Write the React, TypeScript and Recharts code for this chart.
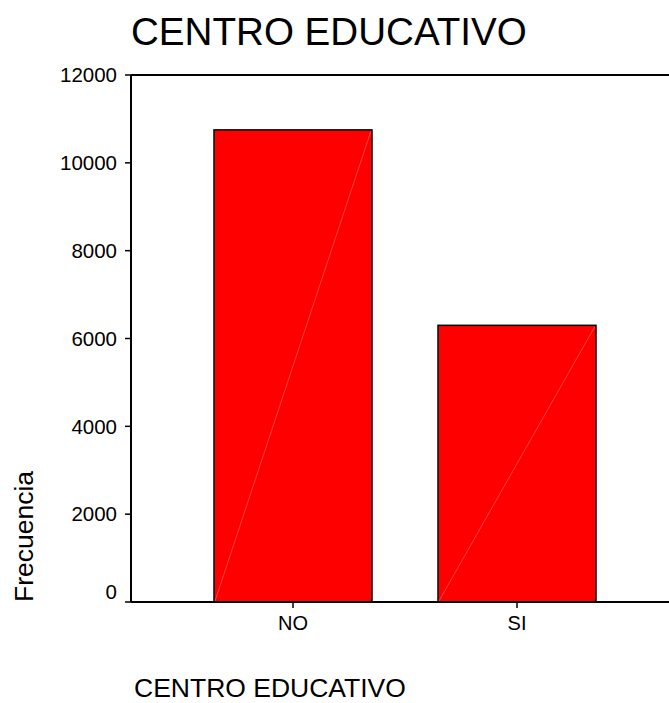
import React from 'react';
import { BarChart, Bar, XAxis, YAxis, ReferenceLine } from 'recharts';

const categories = ['NO', 'SI'];
const frequencies = [10750, 6300];
const yTicks = [0, 2000, 4000, 6000, 8000, 10000, 12000];

const chartData = categories.map((name, i) => ({ name, value: frequencies[i] }));

const FONT = '"Liberation Sans", Arial, sans-serif';

// SPSS style bar: solid red with a faint diagonal
const DiagonalBar = (props: any) => {
  const { x, y, width, height } = props;
  if (!height) return null;
  return (
    <g>
      <rect x={x} y={y} width={width} height={height} fill="#ff0000" stroke="#000" strokeWidth={1.5} />
      <line x1={x + 1} y1={y + height - 1} x2={x + width - 1} y2={y + 1} stroke="#ff7070" strokeWidth={0.6} />
    </g>
  );
};

const YTick = (props: any) => {
  const { x, y, payload } = props;
  const shift = payload.value === 0 ? -10 : 0;
  return (
    <text x={x} y={y + shift} dy="0.355em" textAnchor="end" fontSize={20.5} fontFamily={FONT} fill="#000">
      {payload.value}
    </text>
  );
};

const XTick = (props: any) => {
  const { x, y, payload } = props;
  return (
    <text x={x} y={y} dy="0.71em" textAnchor="middle" fontSize={20} fontFamily={FONT} fill="#000">
      {payload.value}
    </text>
  );
};

const App: React.FC = () => {
  return (
    <div style={{ position: 'absolute', left: 0, top: 0, width: 669, height: 703, background: '#fff' }}>
      <BarChart
        width={669}
        height={703}
        data={chartData}
        margin={{ top: 75, right: 0, bottom: 61, left: 0 }}
      >
        <XAxis
          dataKey="name"
          padding={{ left: 50, right: 40 }}
          axisLine={{ stroke: '#000', strokeWidth: 2 }}
          tickLine={{ stroke: '#000', strokeWidth: 1.5 }}
          tickSize={6}
          tickMargin={8}
          height={40}
          tick={<XTick />}
        />
        <YAxis
          domain={[0, 12000]}
          ticks={yTicks}
          interval={0}
          width={131}
          axisLine={{ stroke: '#000', strokeWidth: 2 }}
          tickLine={{ stroke: '#000', strokeWidth: 1.5 }}
          tickSize={6}
          tickMargin={8}
          tick={<YTick />}
        />
        <ReferenceLine y={12000} stroke="#000" strokeWidth={2} />
        <Bar dataKey="value" barSize={158} shape={<DiagonalBar />} isAnimationActive={false} />
      </BarChart>
      <svg width={669} height={703} style={{ position: 'absolute', left: 0, top: 0, pointerEvents: 'none' }}>
        <text x={131} y={45} fontSize={38.6} fontFamily={FONT} fill="#000">CENTRO EDUCATIVO</text>
        <text x={134} y={697} fontSize={26.5} fontFamily={FONT} fill="#000">CENTRO EDUCATIVO</text>
        <text x={33} y={602} transform="rotate(-90, 33, 602)" fontSize={26.5} fontFamily={FONT} fill="#000">
          Frecuencia
        </text>
      </svg>
    </div>
  );
};

export default App;
